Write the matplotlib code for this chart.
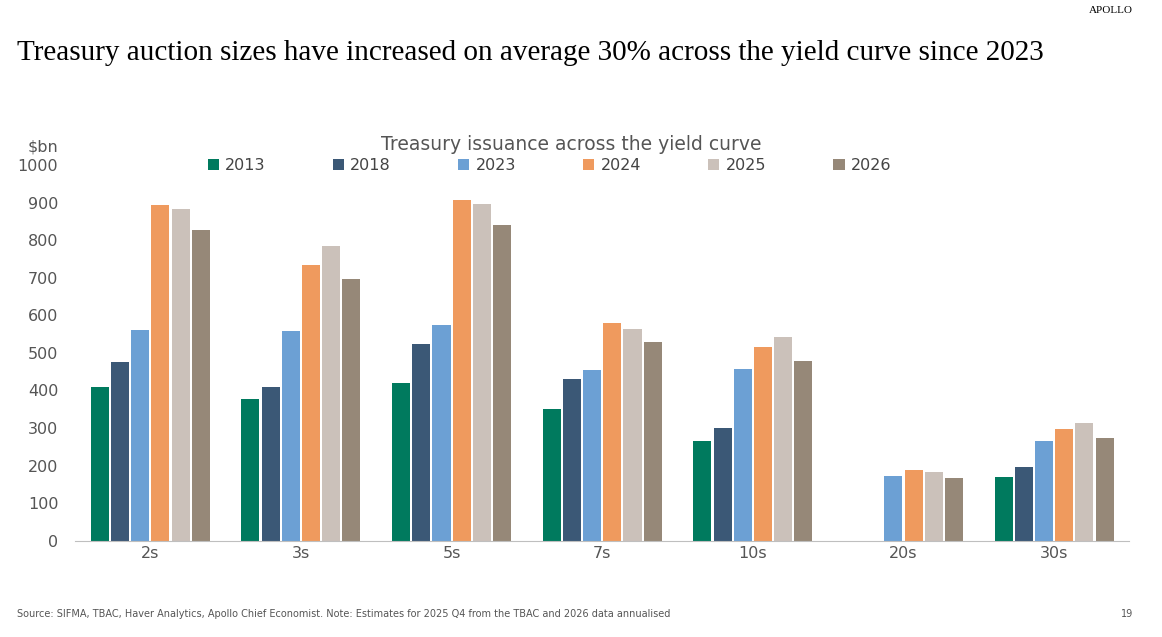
import numpy as np
import matplotlib.pyplot as plt

categories = ['2s', '3s', '5s', '7s', '10s', '20s', '30s']
years = ['2013', '2018', '2023', '2024', '2025', '2026']
values = {
    '2013': [410, 378, 421, 350, 265, 0, 170],
    '2018': [476, 410, 523, 430, 299, 0, 197],
    '2023': [561, 557, 575, 455, 457, 172, 265],
    '2024': [894, 735, 907, 580, 515, 188, 297],
    '2025': [883, 785, 896, 563, 543, 182, 313],
    '2026': [827, 697, 840, 528, 478, 167, 274],
}
colors = ['#007A5E', '#3B5876', '#6CA0D4', '#EF9A5E', '#CBC1BA', '#968878']

fig = plt.figure(figsize=(11.62, 6.37), dpi=100)
ax = fig.add_axes([0.0645, 0.151, 0.9075, 0.59])

x = np.arange(len(categories))
step = 0.134
w = 0.12
for i, (yr, c) in enumerate(zip(years, colors)):
    ax.bar(x + (i - 2.5) * step, values[yr], w, color=c, label=yr)

ax.set_xlim(-0.5, len(categories) - 0.5)
ax.set_ylim(0, 1000)
ax.set_yticks(range(0, 1001, 100))
ax.set_xticks(x)
ax.set_xticklabels(categories)
ax.tick_params(length=0, labelsize=11.5, colors='#555555')
ax.tick_params(axis='y', pad=12)
for s in ['top', 'right', 'left']:
    ax.spines[s].set_visible(False)
ax.spines['bottom'].set_color('#bfbfbf')

ax.legend(ncol=6, loc='lower center', bbox_to_anchor=(0.45, 0.94), frameon=False,
          fontsize=11.5, handlelength=0.7, handleheight=0.7, columnspacing=4.2,
          handletextpad=0.4, labelcolor='#444444')

fig.text(0.492, 0.764, 'Treasury issuance across the yield curve', ha='center',
         fontsize=13.5, color='#555555')
fig.text(0.024, 0.762, '$bn', fontsize=11.5, color='#555555')
fig.text(0.015, 0.917, 'Treasury auction sizes have increased on average 30% across the yield curve since 2023',
         fontsize=21, family='Liberation Serif', va='center')
fig.text(0.975, 0.983, 'APOLLO', fontsize=8, family='Liberation Serif', ha='right', va='center')
fig.text(0.015, 0.036, 'Source: SIFMA, TBAC, Haver Analytics, Apollo Chief Economist. Note: Estimates for 2025 Q4 from the TBAC and 2026 data annualised',
         fontsize=7, color='#555555', va='center')
fig.text(0.975, 0.036, '19', fontsize=7, color='#555555', ha='right', va='center')

fig.savefig('out.png', dpi=100)
